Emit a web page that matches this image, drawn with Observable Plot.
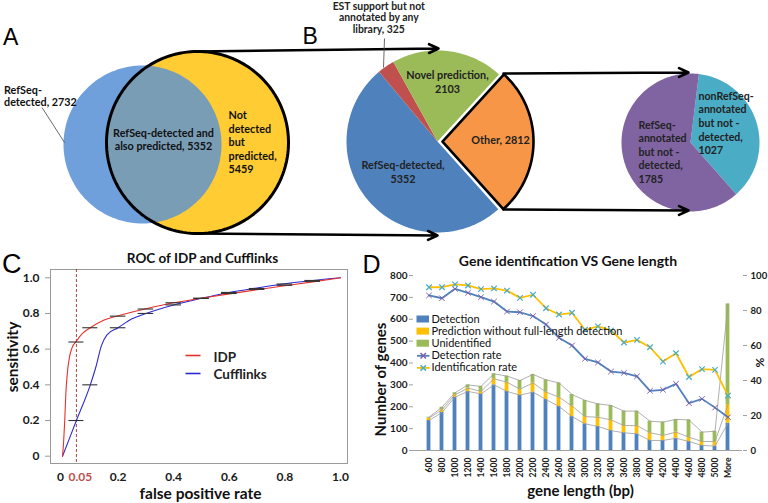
<!DOCTYPE html>
<html><head><meta charset="utf-8">
<script src="https://cdn.jsdelivr.net/npm/d3@7"></script>
<script src="https://cdn.jsdelivr.net/npm/@observablehq/plot@0.6"></script>
<style>
body{margin:0;background:#fff}
#root{position:relative;width:768px;height:503px;overflow:hidden;background:#fff;font-family:Lato,"Liberation Sans",sans-serif}
#root svg{position:absolute;background:transparent;overflow:visible}
</style></head><body><div id="root"></div>
<script>
// ---------------- DATA ----------------
const vennLabels = ["RefSeq-\ndetected, ", "RefSeq-detected and\nalso predicted, ", "Not\ndetected\nbut\npredicted,\n"];
const vennValues = [2732, 5352, 5459];

const pieBCategories = ["Other, ", "RefSeq-detected,\n", "EST support but not\nannotated by any\nlibrary, ", "Novel prediction,\n"];
const pieBValues = [2812, 5352, 325, 2103];
const pieBColors = ["#F79646", "#4F81BD", "#C0504D", "#9BBB59"];

const pieCCategories = ["nonRefSeq-\nannotated\nbut not -\ndetected,\n", "RefSeq-\nannotated\nbut not -\ndetected,\n"];
const pieCValues = [1027, 1785];
const pieCColors = ["#4BACC6", "#8064A2"];

const rocIdpFpr  = [0, 0.004, 0.008, 0.012, 0.017, 0.025, 0.035, 0.05, 0.07, 0.1, 0.15, 0.2, 0.3, 0.4, 0.5, 0.6, 0.7, 0.8, 0.9, 1.0];
const rocIdpSens = [0, 0.08, 0.2, 0.35, 0.46, 0.555, 0.61, 0.645, 0.685, 0.72, 0.763, 0.787, 0.826, 0.86, 0.885, 0.91, 0.933, 0.955, 0.977, 1.0];
const rocCuffFpr  = [0, 0.05, 0.1, 0.12, 0.14, 0.16, 0.2, 0.25, 0.3, 0.4, 0.5, 0.6, 0.7, 0.8, 0.9, 1.0];
const rocCuffSens = [0, 0.2, 0.4, 0.5, 0.62, 0.68, 0.72, 0.77, 0.8, 0.848, 0.885, 0.918, 0.943, 0.967, 0.985, 1.0];
const markFpr      = [0.05, 0.1, 0.2, 0.3, 0.4, 0.5, 0.6, 0.7, 0.8, 0.9];
const markIdpSens  = [0.64, 0.72, 0.785, 0.825, 0.86, 0.885, 0.912, 0.935, 0.958, 0.98];
const markCuffSens = [0.2, 0.4, 0.72, 0.8, 0.848, 0.885, 0.918, 0.94, 0.965, 0.985];
const markHalfWidth = [0.027, 0.027, 0.028, 0.028, 0.028, 0.028, 0.028, 0.028, 0.028, 0.028];
const rocXTicks = [0, 0.2, 0.4, 0.6, 0.8, 1.0];
const rocYTicks = [0, 0.2, 0.4, 0.6, 0.8, 1.0];

const lengthCategories = ["600","800","1000","1200","1400","1600","1800","2000","2200","2400","2600","2800","3000","3200","3400","3600","3800","4000","4200","4400","4600","4800","5000","More"];
const detection      = [137,174,244,270,259,300,270,253,267,233,201,155,122,110, 91, 81, 76, 46, 46, 56, 41, 23, 20,125];
const predictionOnly = [ 11, 12, 11, 15, 11, 28, 42, 27, 42, 34, 43, 48, 33, 42, 49, 33, 38, 35, 23, 28, 20, 18, 21, 85];
const unidentified   = [  4, 12,  9, 15, 23, 23, 28, 40, 39, 56, 65, 53, 74, 61, 66, 66, 66, 53, 61, 58, 79, 43, 47,460];
const detectionRate      = [88.6,87,92.4,90.1,87.6,85.1,79.4,79,76.8,72,64.4,60,52.4,50.3,45.1,44.4,42.4,34.1,34.7,38.1,27,29.5,24.5,19];
const identificationRate = [93.3,93.3,94.9,94.3,92.2,92.6,91.4,87.2,89,81.3,77.7,78.7,69,70.9,68.6,61.7,63.2,59,50.8,55.6,42,46.5,46.1,31.4];
const countTicks = [0,100,200,300,400,500,600,700,800];
const pctTicks = [0,20,40,60,80,100];
const stackNames = ["Detection", "Prediction without full-length detection", "Unidentified"];
const stackColors = ["#4F81BD", "#FFC000", "#9BBB59"];
const rateNames = ["Detection rate", "Identification rate"];
const rateColors = ["#4F81BD", "#FFC000"];
const rateMarkerColors = ["#7E5FA8", "#4BACC6"];

// ---------------- LAYOUT ----------------
const FONT = "Lato";
const root = document.getElementById("root");
const place = (el, left, top) => { el.style.left = left + "px"; el.style.top = top + "px"; el.style.overflow = "visible"; root.appendChild(el); };

// ---------- Panel C ----------
const idp = rocIdpFpr.map((x, i) => ({x, y: rocIdpSens[i]}));
const cuff = rocCuffFpr.map((x, i) => ({x, y: rocCuffSens[i]}));
const markRows = markFpr.flatMap((x, i) => [
  {x1: x - markHalfWidth[i], x2: x + markHalfWidth[i], y: markIdpSens[i]},
  {x1: x - markHalfWidth[i], x2: x + markHalfWidth[i], y: markCuffSens[i]}
]);
const panelC = Plot.plot({
  width: 390, height: 263, marginLeft: 50, marginRight: 43, marginTop: 29, marginBottom: 40,
  style: {fontFamily: FONT, background: "transparent", overflow: "visible"},
  x: {domain: [-0.0432, 1.0252]},
  y: {domain: [-0.041, 1.0465]},
  marks: [
    Plot.frame({stroke: "#9a9a9a"}),
    Plot.ruleX([0.05], {stroke: "#A3302A", strokeDasharray: "3,2", strokeWidth: 0.9}),
    Plot.line(cuff, {x: "x", y: "y", stroke: "#2B2BD0", strokeWidth: 1.1, curve: "monotone-x"}),
    Plot.line(idp, {x: "x", y: "y", stroke: "#E8302A", strokeWidth: 1.1, curve: "monotone-x"}),
    Plot.ruleY(markRows, {x1: "x1", x2: "x2", y: "y", stroke: "#333", strokeWidth: 1.1}),
    Plot.axisY({ticks: rocYTicks, tickFormat: d => d === 0 ? "0" : d.toFixed(1), tickSize: 5, tickPadding: 6,
      fontWeight: "bold", fontSize: 12, stroke: "#9a9a9a", fill: "#1a1a1a", label: null}),
    Plot.axisX({ticks: [0], tickFormat: d => "0", tickSize: 0, tickPadding: 9, dx: -2,
      fontWeight: "bold", fontSize: 12, fill: "#1a1a1a", label: null}),
    Plot.axisX({ticks: rocXTicks.slice(1), tickFormat: d => d.toFixed(1), tickSize: 0, tickPadding: 9,
      fontWeight: "bold", fontSize: 12, fill: "#1a1a1a", label: null}),
    Plot.axisX({ticks: [0.05], tickFormat: d => "0.05", tickSize: 0, tickPadding: 9, dx: 4,
      fontWeight: "bold", fontSize: 12, fill: "#C0504D", label: null})
  ]
});
place(panelC, 0, 240);

// ---------- Panel D ----------
const rows = lengthCategories.map((c, i) => ({
  c, det: detection[i], pred: predictionOnly[i], unid: unidentified[i],
  dr: detectionRate[i], ir: identificationRate[i]
}));
const stackRows = rows.flatMap(r => [
  {c: r.c, s: stackNames[0], v: r.det},
  {c: r.c, s: stackNames[1], v: r.pred},
  {c: r.c, s: stackNames[2], v: r.unid}
]);
const PCT = 8; // 100% on right axis = 800 on left axis
const panelD = Plot.plot({
  width: 378, height: 263, marginLeft: 23, marginRight: 26, marginTop: 35, marginBottom: 53,
  style: {fontFamily: FONT, background: "transparent", overflow: "visible"},
  x: {type: "band", domain: lengthCategories, padding: 0},
  y: {domain: [0, 800]},
  color: {domain: stackNames, range: stackColors},
  marks: [
    Plot.barY(stackRows, {x: "c", y: "v", fill: "s", insetLeft: 4.6, insetRight: 4.6}),
    Plot.lineY(rows, {x: "c", y: d => d.det, stroke: "#9c9c9c", strokeWidth: 0.8}),
    Plot.lineY(rows, {x: "c", y: d => d.det + d.pred, stroke: "#9c9c9c", strokeWidth: 0.8}),
    Plot.lineY(rows, {x: "c", y: d => d.det + d.pred + d.unid, stroke: "#9c9c9c", strokeWidth: 0.8}),
    Plot.ruleY([0], {stroke: "#a0a0a0"}),
    Plot.lineY(rows, {x: "c", y: d => d.dr * PCT, stroke: rateColors[0], strokeWidth: 1.8}),
    Plot.dot(rows, {x: "c", y: d => d.dr * PCT, symbol: "times", r: 2.6, stroke: rateMarkerColors[0], strokeWidth: 1}),
    Plot.lineY(rows, {x: "c", y: d => d.ir * PCT, stroke: rateColors[1], strokeWidth: 1.8}),
    Plot.dot(rows, {x: "c", y: d => d.ir * PCT, symbol: "times", r: 2.6, stroke: rateMarkerColors[1], strokeWidth: 1.2}),
    Plot.axisY({anchor: "left", ticks: countTicks, tickSize: 4, tickPadding: 2, fontWeight: "bold", fontSize: 10,
      stroke: "#a0a0a0", fill: "#1a1a1a", line: true, label: null}),
    Plot.axisY({anchor: "right", ticks: pctTicks.map(p => p * PCT), tickFormat: d => String(d / PCT), tickSize: 4, tickPadding: 4,
      fontWeight: "bold", fontSize: 9.6, stroke: "#a0a0a0", fill: "#1a1a1a", line: true, label: null}),
    Plot.axisX({tickRotate: -90, tickSize: 0, tickPadding: 7, fontWeight: "bold", fontSize: 8.6, fill: "#1a1a1a", label: null})
  ]
});
place(panelD, 390, 240);

// ---------- Overlay (Venn, pies, arrows, annotations) ----------
const circlePts = (cx, cy, r, n = 160) => d3.range(n).map(i => {
  const a = 2 * Math.PI * i / n; return {x: cx + r * Math.sin(a), y: cy - r * Math.cos(a)};
});
const venn = {blue: {cx: 142, cy: 144, r: 79}, yellow: {cx: 197, cy: 142, r: 91}};
const inside = (p, c) => Math.hypot(p.x - c.cx, p.y - c.cy) <= c.r;
const bluePts = circlePts(venn.blue.cx, venn.blue.cy, venn.blue.r);
const yellowPts = circlePts(venn.yellow.cx, venn.yellow.cy, venn.yellow.r);
let lensPts = bluePts.filter(p => inside(p, venn.yellow)).concat(yellowPts.filter(p => inside(p, venn.blue)));
const lc = {x: d3.mean(lensPts, p => p.x), y: d3.mean(lensPts, p => p.y)};
lensPts.sort((a, b) => Math.atan2(a.y - lc.y, a.x - lc.x) - Math.atan2(b.y - lc.y, b.x - lc.x));

const deg = Math.PI / 180;
function wedge(cx, cy, r, a0, a1) {
  const n = Math.max(2, Math.ceil((a1 - a0) / 0.02));
  const pts = [{x: cx, y: cy}];
  for (let i = 0; i <= n; i++) { const a = a0 + (a1 - a0) * i / n; pts.push({x: cx + r * Math.sin(a), y: cy - r * Math.cos(a)}); }
  return pts;
}
const pieB = {cx: 437, cy: 141, r: 91, start: 42.5 * deg, explode: 5};
const arcsB = d3.pie().sort(null).startAngle(pieB.start).endAngle(pieB.start + 2 * Math.PI)(pieBValues);
const pieC = {cx: 690, cy: 142, r: 69, start: 7 * deg};
const arcsC = d3.pie().sort(null).startAngle(pieC.start).endAngle(pieC.start + 2 * Math.PI)(pieCValues);

const shapeMarks = [];
const poly = (pts, opts) => shapeMarks.push(Plot.line(pts, {x: "x", y: "y", curve: "linear-closed", stroke: "none", ...opts}));
poly(bluePts, {fill: "#6FA0DC"});
poly(yellowPts, {fill: "#FFCC33"});
poly(lensPts, {fill: "#7A9DB6"});
poly(yellowPts, {fill: "none", stroke: "#000", strokeWidth: 3});
arcsB.forEach((a, i) => {
  const mid = (a.startAngle + a.endAngle) / 2;
  const off = i === 0 ? pieB.explode : 0;
  const pts = wedge(pieB.cx + off * Math.sin(mid), pieB.cy - off * Math.cos(mid), pieB.r, a.startAngle, a.endAngle);
  poly(pts, i === 0 ? {fill: pieBColors[i], stroke: "#000", strokeWidth: 2.6} : {fill: pieBColors[i]});
});
arcsC.forEach((a, i) => poly(wedge(pieC.cx, pieC.cy, pieC.r, a.startAngle, a.endAngle), {fill: pieCColors[i]}));

const arrows = [
  {x1: 197, y1: 51, x2: 438, y2: 48}, {x1: 197, y1: 233, x2: 437, y2: 235},
  {x1: 503, y1: 73, x2: 688, y2: 72}, {x1: 503, y1: 209, x2: 688, y2: 210}
];
const leaders = [{x1: 41.5, y1: 107, x2: 64, y2: 142}, {x1: 384, y1: 38, x2: 383, y2: 67}];

// text specs: b = baseline of first line, lh = line height in px
const T = (text, x, b, fs, opts = {}) => ({text, x, b, fs, anchor: "start", lh: fs * 1.2, weight: "bold", family: FONT, fill: "#111", ...opts});
const TOP = 10.8;
const texts = [
  T("A", 2.5, 44, 23, {weight: "normal", family: "Liberation Sans", fill: "#000"}),
  T("B", 302, 43, 23, {weight: "normal", family: "Liberation Sans", fill: "#000"}),
  T("C", 1.5, 272, 27, {weight: "normal", family: "Liberation Sans", fill: "#000"}),
  T("D", 362, 272, 25, {weight: "normal", family: "Liberation Sans", fill: "#000"}),
  T(vennLabels[0] + vennValues[0], 3.5, 93, TOP, {lh: 12.5}),
  T(vennLabels[1] + vennValues[1], 163, 136, TOP, {anchor: "middle", lh: 13.5}),
  T(vennLabels[2] + vennValues[2], 228, 118.5, TOP, {lh: 13.6}),
  T(pieBCategories[2] + pieBValues[2], 378.3, 9, 10.4, {anchor: "middle", lh: 12, fill: "#222"}),
  T(pieBCategories[3] + pieBValues[3], 447, 78.5, TOP, {anchor: "middle", lh: 14, fill: "#222"}),
  T(pieBCategories[0] + pieBValues[0], 500, 143.5, TOP, {anchor: "middle", fill: "#222"}),
  T(pieBCategories[1] + pieBValues[1], 402.5, 168.5, TOP, {anchor: "middle", lh: 14.5, fill: "#222"}),
  T(pieCCategories[0] + pieCValues[0], 698, 99, 10.6, {lh: 13.7, fill: "#222"}),
  T(pieCCategories[1] + pieCValues[1], 638, 128.5, 10.6, {lh: 13.5, fill: "#222"}),
  T("ROC of IDP and Cufflinks", 202, 262, 13.5, {anchor: "middle"}),
  T("false positive rate", 200, 498.5, 15.5, {anchor: "middle"}),
  T("Gene identification VS Gene length", 567.5, 265, 14, {anchor: "middle"}),
  T("gene length (bp)", 580, 495, 15, {anchor: "middle"}),
  T("IDP", 213, 361, 13.5, {fill: "#222"}),
  T("Cufflinks", 213, 378, 13.5, {fill: "#222"})
];
const rotTexts = [
  {text: "sensitivity", x: 13, y: 356.5, fs: 15.5},
  {text: "Number of genes", x: 381, y: 379, fs: 15},
  {text: "%", x: 760, y: 362, fs: 12}
];
const rocLegend = [
  {x1: 185, x2: 200, y: 355, stroke: "#E8302A"},
  {x1: 185, x2: 200, y: 373, stroke: "#2B2BD0"}
];
const legD = {x1: 416.5, x2: 429, y0: 319, dy: 12.1, tx: 431};
const legItems = stackNames.map((n, i) => ({name: n, kind: "box", color: stackColors[i]}))
  .concat(rateNames.map((n, i) => ({name: n, kind: "line", color: rateColors[i], marker: rateMarkerColors[i]})));
legItems.forEach((d, i) => d.y = legD.y0 + legD.dy * i);

// Plot places the first baseline of a top-anchored text at y + 0.71 * lineHeight
const textMarks = texts.map(t => Plot.text([t], {
  x: "x", y: d => d.b - 0.71 * d.lh, text: "text", lineAnchor: "top", textAnchor: t.anchor,
  lineHeight: t.lh / t.fs, fontSize: t.fs, fontWeight: t.weight, fontFamily: t.family, fill: t.fill
}));
const rotMarks = rotTexts.map(t => Plot.text([t], {
  x: "x", y: "y", text: "text", rotate: -90, textAnchor: "middle", lineAnchor: "middle",
  fontSize: t.fs, fontWeight: "bold", fontFamily: FONT, fill: "#111"
}));

const overlay = Plot.plot({
  width: 768, height: 503, margin: 0,
  style: {fontFamily: FONT, background: "transparent"},
  x: {type: "identity", axis: null}, y: {type: "identity", axis: null},
  marks: [
    ...shapeMarks,
    Plot.arrow(arrows, {x1: "x1", y1: "y1", x2: "x2", y2: "y2", stroke: "#000", strokeWidth: 2.6, headLength: 6, headAngle: 50}),
    Plot.link(leaders, {x1: "x1", y1: "y1", x2: "x2", y2: "y2", stroke: "#444", strokeWidth: 0.8}),
    Plot.link(rocLegend, {x1: "x1", x2: "x2", y1: "y", y2: "y", stroke: "stroke", strokeWidth: 1.6}),
    Plot.rect(legItems.filter(d => d.kind === "box"), {x1: legD.x1, x2: legD.x2, y1: d => d.y - 3.5, y2: d => d.y + 3.5, fill: "color"}),
    Plot.link(legItems.filter(d => d.kind === "line"), {x1: legD.x1, x2: legD.x2, y1: "y", y2: "y", stroke: "color", strokeWidth: 1.8}),
    Plot.dot(legItems.filter(d => d.kind === "line"), {x: (legD.x1 + legD.x2) / 2, y: "y", symbol: "times", r: 2.6, stroke: "marker"}),
    Plot.text(legItems, {x: legD.tx, y: "y", text: "name", textAnchor: "start", fontSize: 11, fontFamily: FONT, fill: "#111"}),
    ...textMarks,
    ...rotMarks
  ]
});
place(overlay, 0, 0);
</script></body></html>
